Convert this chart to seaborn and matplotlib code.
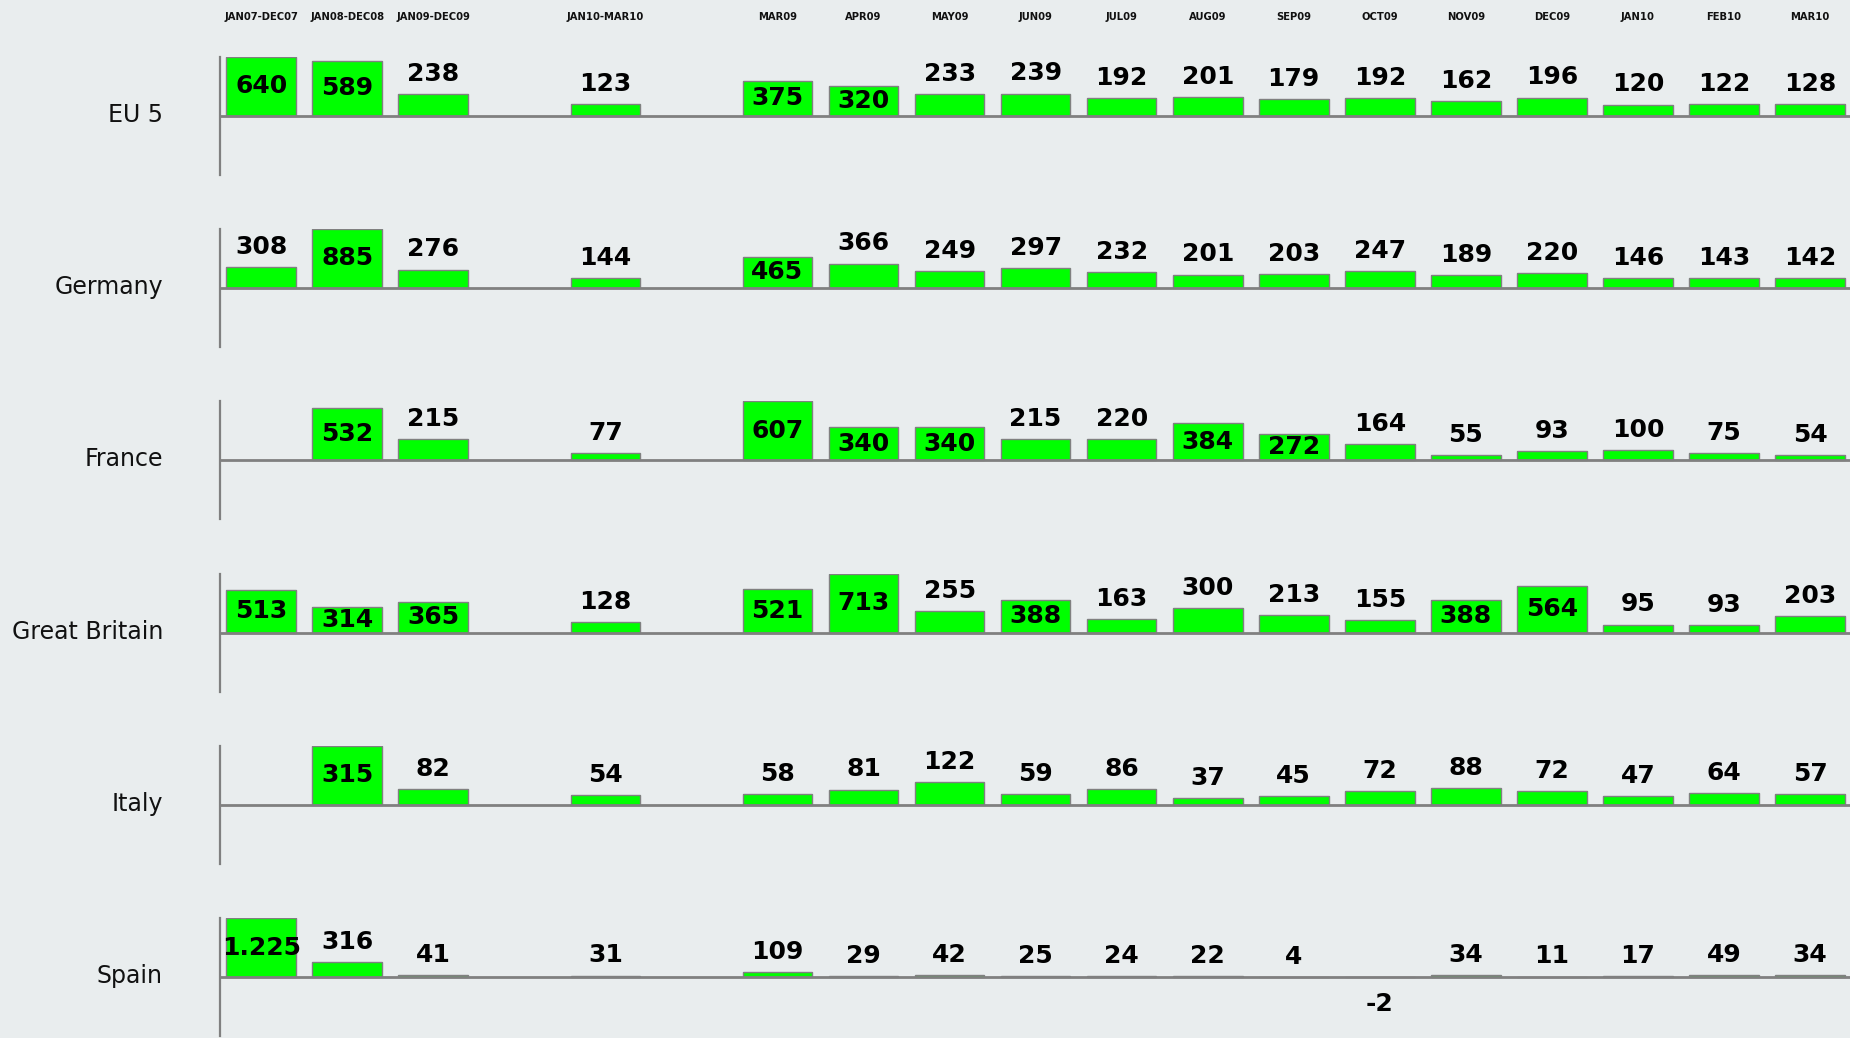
import matplotlib
matplotlib.use("Agg")
import matplotlib.pyplot as plt
import matplotlib.transforms as mtransforms
import seaborn as sns
import pandas as pd
import numpy as np

# ---------------- data ----------------
periods = ["JAN07-DEC07", "JAN08-DEC08", "JAN09-DEC09", "JAN10-MAR10",
           "MAR09", "APR09", "MAY09", "JUN09", "JUL09", "AUG09", "SEP09",
           "OCT09", "NOV09", "DEC09", "JAN10", "FEB10", "MAR10"]

countries = ["EU 5", "Germany", "France", "Great Britain", "Italy", "Spain"]

eu5 = [640, 589, 238, 123, 375, 320, 233, 239, 192, 201, 179, 192, 162, 196, 120, 122, 128]
germany = [308, 885, 276, 144, 465, 366, 249, 297, 232, 201, 203, 247, 189, 220, 146, 143, 142]
france = [np.nan, 532, 215, 77, 607, 340, 340, 215, 220, 384, 272, 164, 55, 93, 100, 75, 54]
great_britain = [513, 314, 365, 128, 521, 713, 255, 388, 163, 300, 213, 155, 388, 564, 95, 93, 203]
italy = [np.nan, 315, 82, 54, 58, 81, 122, 59, 86, 37, 45, 72, 88, 72, 47, 64, 57]
spain = [1225, 316, 41, 31, 109, 29, 42, 25, 24, 22, 4, -2, 34, 11, 17, 49, 34]

series = [eu5, germany, france, great_britain, italy, spain]

# category order including two empty spacer columns
order = periods[:3] + [" "] + [periods[3]] + ["  "] + periods[4:]

# ---------------- style ----------------
BG = "#E9EDEE"
GREEN = "#00FF00"
EDGE = "#808080"
AXIS = "#808080"

sns.set_theme(style="white")
plt.rcParams["font.family"] = ["DejaVu Sans"]

W, H = 1850, 1038
fig = plt.figure(figsize=(W / 100, H / 100), dpi=100, facecolor=BG)

left_px = 219.5
half_px = 59.0
base0 = 115.6
step = 172.3
label_x_px = 163

for i, (name, vals) in enumerate(zip(countries, series)):
    base = base0 + i * step
    bottom = 1 - (base + half_px) / H
    ax = fig.add_axes([left_px / W, bottom, 1 - left_px / W, 2 * half_px / H])
    ax.set_facecolor("none")

    df = pd.DataFrame({"period": periods, "value": vals}).dropna()
    sns.barplot(data=df, x="period", y="value", order=order, color=GREEN,
                saturation=1, edgecolor=EDGE, linewidth=1.0, width=0.81,
                errorbar=None, ax=ax, zorder=2)

    vmax = np.nanmax(vals)
    ax.set_ylim(-vmax, vmax)
    ax.set_xlim(-0.485, 18.465)
    ax.axhline(0, color=AXIS, lw=2, zorder=3)
    for s in ["top", "right", "bottom"]:
        ax.spines[s].set_visible(False)
    ax.spines["left"].set_color(AXIS)
    ax.spines["left"].set_linewidth(1.6)
    ax.set_xticks([])
    ax.set_yticks([])
    ax.set_xlabel("")
    ax.set_ylabel("")

    for p, v in zip(periods, vals):
        if np.isnan(v):
            continue
        x = order.index(p)
        txt = f"{int(v):,}".replace(",", ".")
        kw = dict(ha="center", va="center", fontsize=18, fontweight="bold",
                  color="black", zorder=5)
        if v < 0:
            ax.annotate(txt, (x, v), xytext=(0, -19), textcoords="offset points", **kw)
        elif v / vmax > 0.43:
            ax.text(x, v / 2, txt, **kw)
        else:
            ax.annotate(txt, (x, v), xytext=(0, 14.5), textcoords="offset points", **kw)

    fig.text(label_x_px / W, 1 - (base - 1) / H, name, ha="right", va="center",
             fontsize=17, color="#111111")

    if i == 0:
        trans = mtransforms.blended_transform_factory(ax.transData, fig.transFigure)
        for p in periods:
            ax.text(order.index(p), 1 - 17 / H, p, transform=trans, ha="center",
                    va="center", fontsize=7.2, fontweight="bold", color="#111111")

fig.savefig("out.png", dpi=100, facecolor=BG)
